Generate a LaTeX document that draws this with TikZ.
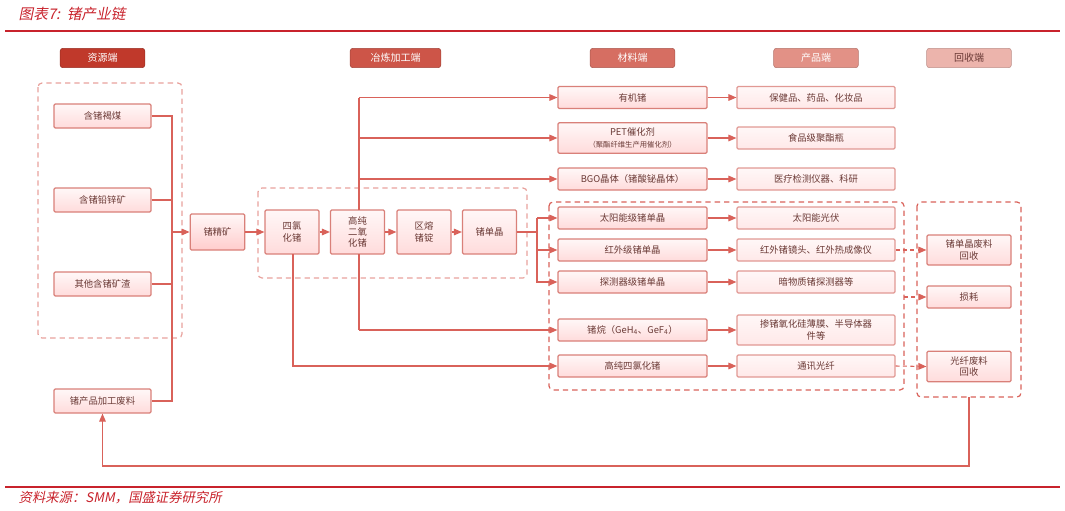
\documentclass[tikz,border=0pt]{standalone}
\usepackage{fontspec}
\setmainfont{Noto Sans CJK SC}
\newfontfamily\cjkit{Noto Sans CJK SC}[FakeSlant=0.2]
\usetikzlibrary{arrows.meta}
\definecolor{ln}{HTML}{D9625A}
\definecolor{bd}{HTML}{D98079}
\definecolor{tx}{HTML}{6B3A36}
\definecolor{rd}{HTML}{C8232C}
\definecolor{ha}{HTML}{C0392B}
\definecolor{hb}{HTML}{CD5548}
\definecolor{hc}{HTML}{D66E62}
\definecolor{hd}{HTML}{E29186}
\definecolor{he}{HTML}{ECB4AC}
\begin{document}
\begin{tikzpicture}[x=0.75pt,y=-0.75pt,
 box/.style={draw=bd,line width=0.9pt,rounded corners=1pt,top color=red!3,bottom color=red!14,text=tx,font=\fontsize{7}{8.5}\selectfont,align=center,inner sep=0pt},
 hd/.style={draw=#1!80!black,fill=#1,rounded corners=2pt,minimum width=63.5pt,minimum height=14.5pt,font=\fontsize{7.5}{9}\selectfont,inner sep=0pt},
 ar/.style={draw=ln,line width=0.8pt,-{Triangle[length=6pt,width=5pt]}},
 li/.style={draw=ln,line width=0.8pt},
 dbox/.style={draw=ln,line width=0.9pt,dash pattern=on 4pt off 3pt,rounded corners=3pt},
 lbox/.style={draw=ln!60,line width=0.9pt,dash pattern=on 4pt off 3pt,rounded corners=3pt}]
\useasboundingbox (0,0) rectangle (1065,511);
\node[anchor=west,text=rd,font=\cjkit\fontsize{11}{13}\selectfont] (title) at (14,14) {图表7:\ \ 锗产业链};
\draw[rd,line width=0.8pt] (5,31) -- (1060,31);
\draw[rd,line width=0.8pt] (5,487) -- (1060,487);
\node[anchor=west,text=rd,font=\cjkit\fontsize{10}{12}\selectfont] (src) at (14,498) {资料来源：SMM，国盛证券研究所};
% headers
\node[hd=ha,text=white] (h1) at (102.5,58) {资源端};
\node[hd=hb,text=white,minimum width=68pt] (h2) at (395.5,58) {冶炼加工端};
\node[hd=hc,text=white] (h3) at (632.5,58) {材料端};
\node[hd=hd,text=white] (h4) at (816,58) {产品端};
\node[hd=he,text=tx] (h5) at (969,58) {回收端};
% dashed groups
\draw[lbox] (38,83) rectangle (182,338);
\draw[lbox] (258,188) rectangle (527,278);
\draw[dbox] (549,202) rectangle (904,390);
\draw[dbox] (917,202) rectangle (1021,397);
% resource nodes
\node[box,minimum width=72.75pt,minimum height=18pt] (r1) at (102.5,116) {含锗褐煤};
\node[box,minimum width=72.75pt,minimum height=18pt] (r2) at (102.5,200) {含锗铅锌矿};
\node[box,minimum width=72.75pt,minimum height=18pt] (r3) at (102.5,284) {其他含锗矿渣};
\node[box,minimum width=72.75pt,minimum height=18pt] (r4) at (102.5,401) {锗产品加工废料};
\node[box,minimum width=41pt,minimum height=27pt,bottom color=red!20] (jk) at (217.5,232) {锗精矿};
\node[box,minimum width=40.5pt,minimum height=33pt] (s1) at (292,232) {四氯\\化锗};
\node[box,minimum width=40.5pt,minimum height=33pt] (s2) at (357.5,232) {高纯\\二氧\\化锗};
\node[box,minimum width=40.5pt,minimum height=33pt] (s3) at (424,232) {区熔\\锗锭};
\node[box,minimum width=40.5pt,minimum height=33pt] (s4) at (489.5,232) {锗单晶};
% material
\foreach \n/\y/\t in {m1/97.5/有机锗,m3/179/BGO晶体（锗酸铋晶体）,m4/218/太阳能级锗单晶,m5/250/红外级锗单晶,m6/282/探测器级锗单晶,m7/330/锗烷（GeH\textsubscript{\tiny 4}、GeF\textsubscript{\tiny 4}）,m8/366/高纯四氯化锗}
  \node[box,minimum width=111.75pt,minimum height=16.5pt] (\n) at (632.5,\y) {\t};
\node[box,minimum width=111.75pt,minimum height=23pt] (m2) at (632.5,138) {PET催化剂\\{\fontsize{5.5}{7}\selectfont （聚酯纤维生产用催化剂）}};
% products
\foreach \n/\y/\t in {p1/97.5/保健品、药品、化妆品,p2/138/食品级聚酯瓶,p3/179/医疗检测仪器、科研,p4/218/太阳能光伏,p5/250/红外锗镜头、红外热成像仪,p6/282/暗物质锗探测器等,p8/366/通讯光纤}
  \node[box,minimum width=118.5pt,minimum height=16.5pt,draw=bd!80,bottom color=red!9] (\n) at (816,\y) {\t};
\node[box,minimum width=118.5pt,minimum height=22.5pt,draw=bd!80,bottom color=red!9] (p7) at (816,330) {掺锗氧化硅薄膜、半导体器\\件等};
% recycle
\node[box,minimum width=63pt,minimum height=22.5pt] (c1) at (969,250) {锗单晶废料\\回收};
\node[box,minimum width=63pt,minimum height=16.5pt] (c2) at (969,297) {损耗};
\node[box,minimum width=63pt,minimum height=23pt] (c3) at (969,366.5) {光纤废料\\回收};
% resource bus
\coordinate (bus) at (172,232);
\draw[li] (r1.east) -| (172,401) -- (r4.east);
\draw[li] (r2.east) -- (172,200);
\draw[li] (r3.east) -- (172,284);
\draw[ar] (bus) -- (jk.west);
\draw[ar] (jk) -- (s1);
\draw[ar] (s1) -- (s2);
\draw[ar] (s2) -- (s3);
\draw[ar] (s3) -- (s4);
% trunk from s2
\draw[li] (359,210) -- (359,97.5);
\draw[li] (359,254) -- (359,330);
\draw[ar] (359,97.5) -- (m1.west);
\draw[ar] (359,138) -- (m2.west);
\draw[ar] (359,179) -- (m3.west);
\draw[ar] (359,330) -- (m7.west);
\draw[ar] (293,254) |- (m8.west);
% fork from s4
\draw[li] (s4.east) -- (537,232);
\draw[ar] (537,218) |- (m6.west);
\draw[ar] (537,218) -- (m4.west);
\draw[ar] (537,250) -- (m5.west);
\foreach \i in {1,...,8} \draw[ar] (m\i) -- (p\i);
% dashed to recycle
\draw[ar,dash pattern=on 3pt off 2.5pt] (p5.east) -- (c1.west);
\draw[ar,dash pattern=on 3pt off 2.5pt] (p8.east) -- (c3.west);
\draw[ar,dash pattern=on 3pt off 2.5pt] (904,297) -- (c2.west);
% return
\draw[ar] (969,397) -- (969,466) -| (r4.south);
\end{tikzpicture}
\end{document}
